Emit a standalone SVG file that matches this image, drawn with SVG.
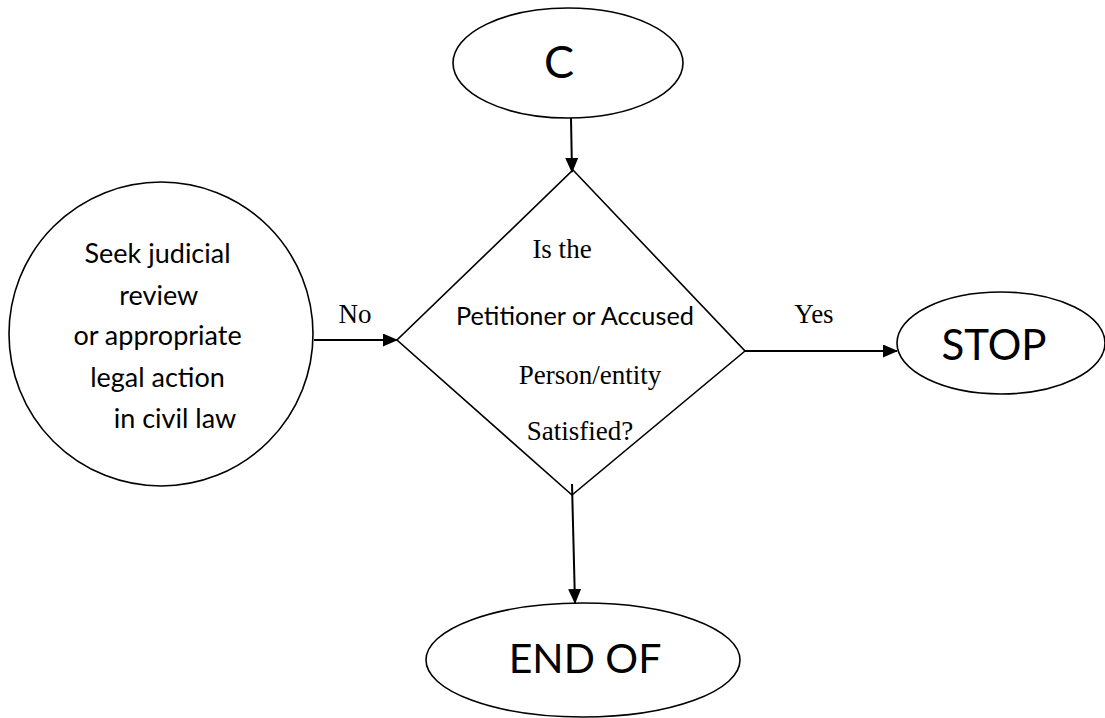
<svg xmlns="http://www.w3.org/2000/svg" width="1105" height="718" viewBox="0 0 1105 718">
<style>
.shape{fill:#fff;stroke:#000;stroke-width:1.6}
.conn{stroke:#000;stroke-width:2;fill:none}
.sans{font-family:Lato,"Liberation Sans",sans-serif;fill:#000}
.serif{font-family:"Liberation Serif","Times New Roman",serif;fill:#000}
</style>
<defs>
<marker id="arr" markerWidth="15" markerHeight="13" refX="14" refY="6.5" orient="auto" markerUnits="userSpaceOnUse" viewBox="0 0 15 13">
<path d="M0,0 L15,6.5 L0,13 z" fill="#000"/>
</marker>
</defs>
<rect width="1105" height="718" fill="#fff"/>
<g id="node-c">
<ellipse class="shape" cx="568" cy="63" rx="115" ry="55"/>
<text class="sans" x="559" y="78" font-size="45" text-anchor="middle">C</text>
</g>
<g id="node-decision">
<polygon class="shape" points="573,170 745,351 572,495 397,340"/>
<text class="serif" x="562" y="258" font-size="27" text-anchor="middle">Is the</text>
<text class="sans" x="575" y="325" font-size="25.3" text-anchor="middle">Petitioner or Accused</text>
<text class="serif" x="590" y="384" font-size="27" text-anchor="middle">Person/entity</text>
<text class="serif" x="580" y="440" font-size="27" text-anchor="middle">Satisfied?</text>
</g>
<g id="node-review">
<circle class="shape" cx="161" cy="334" r="152"/>
<text class="sans" font-size="27" text-anchor="middle">
<tspan x="161" y="263">Seek judicial</tspan>
<tspan x="162" y="305">review</tspan>
<tspan x="161" y="345">or appropriate</tspan>
<tspan x="161" y="387">legal action</tspan>
<tspan x="175" y="428">in civil law</tspan>
</text>
</g>
<g id="node-stop">
<ellipse class="shape" cx="1001" cy="343" rx="104" ry="51"/>
<text class="sans" x="994" y="360" font-size="42" text-anchor="middle">STOP</text>
</g>
<g id="node-end">
<ellipse class="shape" cx="583" cy="660" rx="157" ry="57"/>
<text class="sans" x="585" y="673" font-size="41" text-anchor="middle">END OF</text>
</g>
<g id="connectors">
<line class="conn" x1="571" y1="118" x2="572" y2="172" marker-end="url(#arr)"/>
<line class="conn" x1="314" y1="340" x2="397" y2="340" marker-end="url(#arr)"/>
<line class="conn" x1="745" y1="351" x2="897" y2="351" marker-end="url(#arr)"/>
<line class="conn" x1="572" y1="484" x2="575" y2="603" marker-end="url(#arr)"/>
<text class="serif" x="355" y="323" font-size="27" text-anchor="middle">No</text>
<text class="serif" x="814" y="323" font-size="27" text-anchor="middle">Yes</text>
</g>
</svg>
